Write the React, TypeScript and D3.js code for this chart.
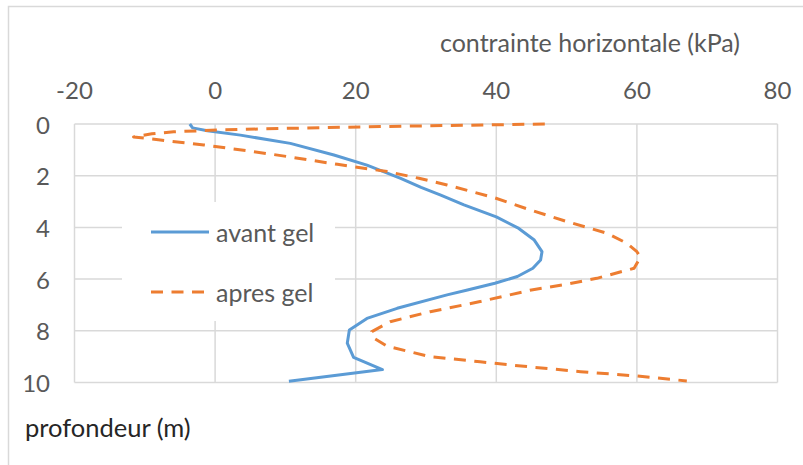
import React from "react";
import * as d3 from "d3";

const xTicks = [-20, 0, 20, 40, 60, 80];
const yTicks = [0, 2, 4, 6, 8, 10];

// avant gel: depth (m), stress (kPa)
const avantDepth = [0, 0.15, 0.26, 0.43, 0.75, 1.2, 1.59, 2.1, 2.45, 2.75, 3.13, 3.59, 4.04, 4.49, 4.94, 5.26, 5.58, 5.9, 6.16, 6.42, 6.61, 7.13, 7.52, 7.97, 8.48, 9.03, 9.5, 9.95];
const avantStress = [-3.6, -3.2, -1.1, 3.6, 10.7, 16.9, 21.6, 26.4, 29.3, 32.1, 35.4, 40.0, 43.2, 45.4, 46.5, 46.3, 45.2, 43.0, 39.8, 35.9, 33.0, 25.9, 21.6, 19.1, 18.8, 19.7, 23.8, 10.5];

// apres gel
const apresDepth = [0, 0.1, 0.17, 0.23, 0.3, 0.38, 0.5, 0.62, 0.81, 1.07, 1.26, 1.56, 1.84, 2.1, 2.36, 2.84, 3.33, 3.78, 4.23, 4.62, 4.94, 5.15, 5.58, 5.97, 6.2, 6.42, 6.87, 7.26, 7.65, 8.03, 8.29, 8.6, 9.0, 9.2, 9.4, 9.58, 9.75, 9.94];
const apresStress = [46.9, 23.5, 10, 0.8, -5.9, -9, -11.6, -7.8, -1.6, 5.5, 10.3, 17.4, 24.5, 29, 33, 39.6, 44.9, 50.1, 55.8, 58.6, 60, 60.5, 59.6, 54.3, 50, 45, 37.7, 30.6, 24.9, 22.3, 22.6, 24.5, 30.6, 37.7, 44.9, 52, 60, 67.1];

const seriesNames = ["avant gel", "apres gel"];
const xTitle = "contrainte horizontale (kPa)";
const yTitle = "profondeur (m)";

const W = 803;
const H = 465;
const FONT = "Lato, 'Open Sans', sans-serif";
const BLUE = "#5B9BD5";
const ORANGE = "#ED7D31";
const GRID = "#D9D9D9";
const TXT = "#595959";

export default function App() {
  const x = d3.scaleLinear().domain([-20, 80]).range([74.5, 777.5]);
  const y = d3.scaleLinear().domain([0, 10]).range([124, 382.5]);

  const line = d3
    .line<[number, number]>()
    .x((d) => x(d[0]))
    .y((d) => y(d[1]))
    .curve(d3.curveLinear);

  const avant: [number, number][] = avantDepth.map((d, i) => [avantStress[i], d]);
  const apres: [number, number][] = apresDepth.map((d, i) => [apresStress[i], d]);

  return (
    <svg
      width={W}
      height={H}
      style={{ position: "absolute", left: 0, top: 0, background: "#fff" }}
      fontFamily={FONT}
    >
      <rect x={0} y={0} width={W} height={H} fill="#fff" />
      <rect x={8.5} y={6.5} width={W + 20} height={H + 20} fill="none" stroke={GRID} strokeWidth={1.5} />

      {/* grid */}
      {xTicks.map((t) => (
        <line key={"gx" + t} x1={x(t)} x2={x(t)} y1={y(0)} y2={y(10)} stroke={GRID} strokeWidth={1.5} />
      ))}
      {yTicks.map((t) => (
        <line key={"gy" + t} x1={x(-20)} x2={x(80)} y1={y(t)} y2={y(t)} stroke={GRID} strokeWidth={1.5} />
      ))}

      {/* x tick labels */}
      {xTicks.map((t) => (
        <text key={"tx" + t} x={x(t)} y={89} textAnchor="middle" dominantBaseline="central" fontSize={24} fill={TXT}>
          {t}
        </text>
      ))}
      {/* y tick labels */}
      {yTicks.map((t) => (
        <text key={"ty" + t} x={50} y={y(t)} textAnchor="end" dominantBaseline="central" fontSize={24} fill={TXT}>
          {t}
        </text>
      ))}

      <text x={590} y={42} textAnchor="middle" dominantBaseline="central" fontSize={25} fill={TXT}>
        {xTitle}
      </text>
      <text x={25} y={427} dominantBaseline="central" fontSize={25.5} fill="#262626">
        {yTitle}
      </text>

      {/* series */}
      <path d={line(avant) || ""} fill="none" stroke={BLUE} strokeWidth={3} strokeLinejoin="round" />
      <path d={line(apres) || ""} fill="none" stroke={ORANGE} strokeWidth={3} strokeDasharray="12 8.5" strokeLinejoin="round" />

      {/* legend */}
      <rect x={122} y={202} width={213} height={119} fill="#fff" />
      <line x1={151} x2={209} y1={232} y2={232} stroke={BLUE} strokeWidth={3} />
      <text x={216} y={232} dominantBaseline="central" fontSize={25} fill={TXT}>
        {seriesNames[0]}
      </text>
      <line x1={151} x2={209} y1={292} y2={292} stroke={ORANGE} strokeWidth={3} strokeDasharray="12 8.5" />
      <text x={216} y={292} dominantBaseline="central" fontSize={25} fill={TXT}>
        {seriesNames[1]}
      </text>
    </svg>
  );
}
